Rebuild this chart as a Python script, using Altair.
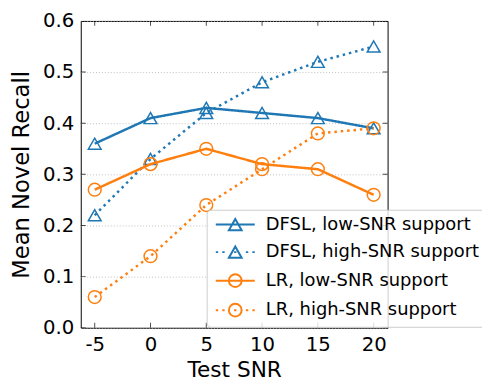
import altair as alt
import pandas as pd

# ---- data ----
snr = [-5, 0, 5, 10, 15, 20]
dfsl_low = [0.36, 0.41, 0.43, 0.42, 0.41, 0.39]
dfsl_high = [0.22, 0.33, 0.42, 0.48, 0.52, 0.55]
lr_low = [0.27, 0.32, 0.35, 0.32, 0.31, 0.26]
lr_high = [0.06, 0.14, 0.24, 0.31, 0.38, 0.39]

series_names = [
    "DFSL, low-SNR support",
    "DFSL, high-SNR support",
    "LR, low-SNR support",
    "LR, high-SNR support",
]
series_values = [dfsl_low, dfsl_high, lr_low, lr_high]
series_colors = ["#1f77b4", "#1f77b4", "#ff7f0e", "#ff7f0e"]
series_dashes = [[1, 0], [2.5, 4], [1, 0], [2.5, 4]]
series_shapes = ["triangle-up", "triangle-up", "circle", "circle"]

x_ticks = [-5, 0, 5, 10, 15, 20]
y_ticks = [0.0, 0.1, 0.2, 0.3, 0.4, 0.5, 0.6]
x_domain = [-6.25, 21.25]
y_domain = [0.0, 0.6]

# legend symbols: line + marker drawn as one custom path (units of sqrt(size)/2)
TRI = "M0,-0.94 L1.08,0.94 L-1.08,0.94 Z"
CIR = "M1.08,0 A1.08,1.08 0 1,1 -1.08,0 A1.08,1.08 0 1,1 1.08,0 Z"
SOLID = "M-3.3,0 L3.3,0 "
DOTS = "M-3.3,0 L-2.9,0 M-2.2,0 L-1.8,0 M-0.2,0 L0.2,0 M1.8,0 L2.2,0 M2.9,0 L3.3,0 "
legend_paths = [SOLID + TRI, DOTS + TRI, SOLID + CIR, DOTS + CIR]

rows = []
for name, vals in zip(series_names, series_values):
    for s, v in zip(snr, vals):
        rows.append({"series": name, "snr": s, "recall": v})
df = pd.DataFrame(rows)

x_enc = alt.X(
    "snr:Q",
    scale=alt.Scale(domain=x_domain, nice=False, zero=False),
    axis=alt.Axis(
        values=x_ticks, title="Test SNR", grid=False, ticks=False, tickSize=0,
        domain=False, labelFontSize=20, labelPadding=7, titleFontSize=22,
        titlePadding=6, titleFontWeight="normal", labelColor="black", titleColor="black",
        labelExpr="toString(datum.value)",
    ),
)
y_enc = alt.Y(
    "recall:Q",
    scale=alt.Scale(domain=y_domain, nice=False, zero=False),
    axis=alt.Axis(
        values=y_ticks, format=".1f", title="Mean Novel Recall", grid=True,
        gridDash=[1, 2], gridColor="#b0b0b0", gridWidth=0.8, ticks=False, tickSize=0,
        domain=False, labelFontSize=20, labelPadding=7, titleFontSize=23,
        titlePadding=9, titleFontWeight="normal", labelColor="black", titleColor="black",
    ),
)

base = alt.Chart(df)
layers = []
for name, col, dash, shp in zip(series_names, series_colors, series_dashes, series_shapes):
    sub = base.transform_filter(alt.datum.series == name)
    layers.append(
        sub.mark_line(color=col, strokeWidth=2.5, strokeDash=dash).encode(x=x_enc, y=y_enc)
    )
    layers.append(
        sub.mark_point(shape=shp, size=169, filled=False, color=col, strokeWidth=1.5, opacity=1)
        .encode(x=x_enc, y=y_enc)
    )

# inward ticks on all four sides
xt_df = pd.DataFrame({"x": x_ticks * 2, "y": [y_domain[0]] * len(x_ticks) + [y_domain[1]] * len(x_ticks)})
yt_df = pd.DataFrame({"x": [x_domain[0]] * len(y_ticks) + [x_domain[1]] * len(y_ticks), "y": y_ticks * 2})
sx = alt.Scale(domain=x_domain, nice=False, zero=False)
sy = alt.Scale(domain=y_domain, nice=False, zero=False)
xticks_layer = alt.Chart(xt_df).mark_tick(orient="vertical", size=10, thickness=1, color="black", clip=True).encode(
    x=alt.X("x:Q", scale=sx), y=alt.Y("y:Q", scale=sy))
yticks_layer = alt.Chart(yt_df).mark_tick(orient="horizontal", size=10, thickness=1, color="black", clip=True).encode(
    x=alt.X("x:Q", scale=sx), y=alt.Y("y:Q", scale=sy))

leg = alt.Legend(
    orient="none", legendX=128, legendY=192, fillColor="rgba(255,255,255,0.8)",
    strokeColor="#cccccc", cornerRadius=4, padding=6, labelFontSize=18.2, labelColor="black",
    labelFont="DejaVu Sans", symbolSize=144, symbolStrokeWidth=2, rowPadding=8,
    symbolOffset=14, labelOffset=22, labelLimit=0,
)
legend_layer = base.transform_filter("false").mark_point(filled=False, opacity=1).encode(
    color=alt.Color("series:N", title=None, scale=alt.Scale(domain=series_names, range=series_colors), legend=leg),
    shape=alt.Shape("series:N", title=None, scale=alt.Scale(domain=series_names, range=legend_paths), legend=leg),
)

chart = alt.layer(*layers, xticks_layer, yticks_layer, legend_layer).properties(
    width=312, height=312,
    autosize=alt.AutoSizeParams(type="none"),
    padding={"left": 74, "top": 10, "right": 96, "bottom": 52},
).configure(font="DejaVu Sans").configure_view(stroke="black", strokeWidth=1)

chart.save("out.html", embed_options={"renderer": "svg", "actions": False})
